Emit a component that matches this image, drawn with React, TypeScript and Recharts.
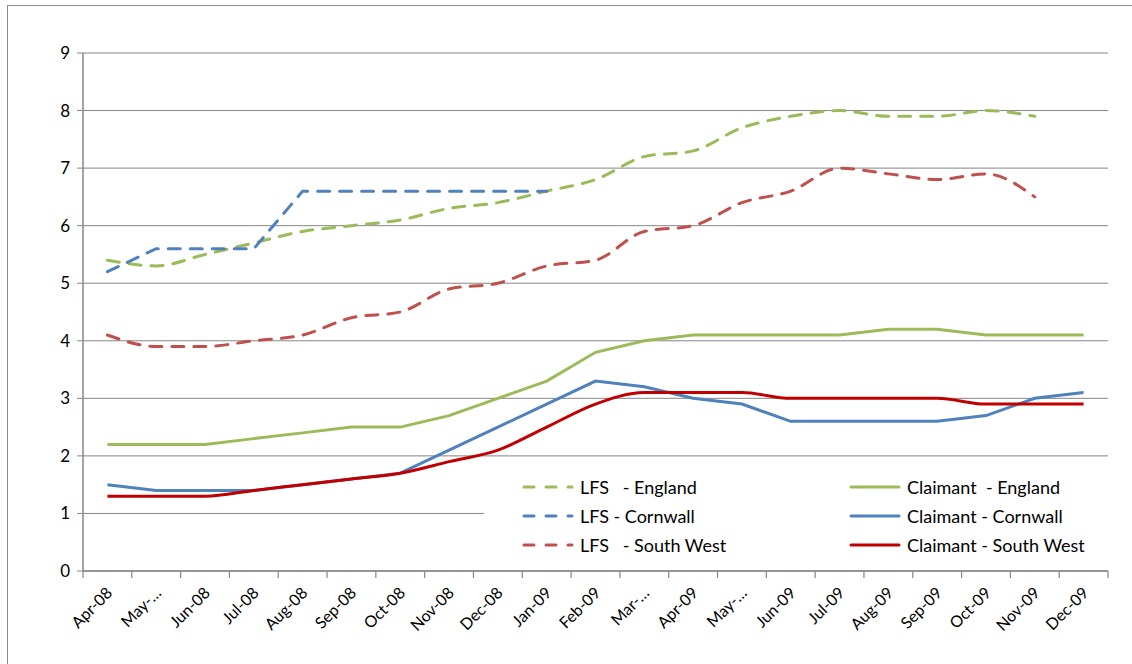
import React from 'react';
import { LineChart, Line, XAxis, YAxis, CartesianGrid, Legend } from 'recharts';

const months = [
  'Apr-08', 'May-…', 'Jun-08', 'Jul-08', 'Aug-08', 'Sep-08', 'Oct-08', 'Nov-08', 'Dec-08', 'Jan-09',
  'Feb-09', 'Mar-…', 'Apr-09', 'May-…', 'Jun-09', 'Jul-09', 'Aug-09', 'Sep-09', 'Oct-09', 'Nov-09', 'Dec-09',
];

const lfsEngland = [5.4, 5.3, 5.5, 5.7, 5.9, 6.0, 6.1, 6.3, 6.4, 6.6, 6.8, 7.2, 7.3, 7.7, 7.9, 8.0, 7.9, 7.9, 8.0, 7.9, null];
const lfsCornwall = [5.2, 5.6, 5.6, 5.6, 6.6, 6.6, 6.6, 6.6, 6.6, 6.6, null, null, null, null, null, null, null, null, null, null, null];
const lfsSouthWest = [4.1, 3.9, 3.9, 4.0, 4.1, 4.4, 4.5, 4.9, 5.0, 5.3, 5.4, 5.9, 6.0, 6.4, 6.6, 7.0, 6.9, 6.8, 6.9, 6.5, null];
const claimantEngland = [2.2, 2.2, 2.2, 2.3, 2.4, 2.5, 2.5, 2.7, 3.0, 3.3, 3.8, 4.0, 4.1, 4.1, 4.1, 4.1, 4.2, 4.2, 4.1, 4.1, 4.1];
const claimantCornwall = [1.5, 1.4, 1.4, 1.4, 1.5, 1.6, 1.7, 2.1, 2.5, 2.9, 3.3, 3.2, 3.0, 2.9, 2.6, 2.6, 2.6, 2.6, 2.7, 3.0, 3.1];
const claimantSouthWest = [1.3, 1.3, 1.3, 1.4, 1.5, 1.6, 1.7, 1.9, 2.1, 2.5, 2.9, 3.1, 3.1, 3.1, 3.0, 3.0, 3.0, 3.0, 2.9, 2.9, 2.9];

const yTicks = [0, 1, 2, 3, 4, 5, 6, 7, 8, 9];

const data = months.map((m, i) => ({
  idx: i,
  month: m,
  lfsEngland: lfsEngland[i],
  lfsCornwall: lfsCornwall[i],
  lfsSouthWest: lfsSouthWest[i],
  claimantEngland: claimantEngland[i],
  claimantCornwall: claimantCornwall[i],
  claimantSouthWest: claimantSouthWest[i],
}));

const labelTicks = months.map((_, i) => i);
const boundaryTicks = [...months.map((_, i) => i - 0.5), months.length - 0.5];
const xDomain = [-0.5, months.length - 0.5];

const GREEN = '#9BBB59';
const BLUE = '#4F81BD';
const RED_LIGHT = '#C0504D';
const RED = '#C00000';
const AXIS = '#868686';
const FONT = 'Lato, "Open Sans", sans-serif';

const legendCols = [
  [
    { label: 'LFS   - England', color: GREEN, dash: true },
    { label: 'LFS - Cornwall', color: BLUE, dash: true },
    { label: 'LFS   - South West', color: RED_LIGHT, dash: true },
  ],
  [
    { label: 'Claimant  - England', color: GREEN, dash: false },
    { label: 'Claimant - Cornwall', color: BLUE, dash: false },
    { label: 'Claimant - South West', color: RED, dash: false },
  ],
];

function MonthTick(props: any) {
  const { x, y, payload } = props;
  return (
    <text
      x={x + 6}
      y={y + 13}
      textAnchor="end"
      transform={`rotate(-45, ${x + 6}, ${y + 13})`}
      fontSize={16}
      fontFamily={FONT}
      fill="#000"
    >
      {months[payload.value]}
    </text>
  );
}

function ChartLegend() {
  return (
    <div
      style={{
        position: 'absolute',
        left: 484,
        top: 468,
        width: 624,
        height: 94,
        background: '#fff',
        fontFamily: FONT,
        fontSize: 18,
        color: '#000',
      }}
    >
      {legendCols.map((col, c) => (
        <div key={c} style={{ position: 'absolute', left: c === 0 ? 38 : 365, top: 4 }}>
          {col.map((item) => (
            <div key={item.label} style={{ display: 'flex', alignItems: 'center', height: 29, whiteSpace: 'pre' }}>
              <svg width={52} height={6} style={{ marginRight: 6 }}>
                <line
                  x1={2}
                  y1={3}
                  x2={50}
                  y2={3}
                  stroke={item.color}
                  strokeWidth={3}
                  strokeLinecap="round"
                  strokeDasharray={item.dash ? '10 12' : undefined}
                />
              </svg>
              <span>{item.label}</span>
            </div>
          ))}
        </div>
      ))}
    </div>
  );
}

export default function App() {
  return (
    <div style={{ position: 'absolute', left: 0, top: 0, width: 1132, height: 664, background: '#fff', overflow: 'hidden' }}>
      <div
        style={{
          position: 'absolute',
          left: 7,
          top: 5,
          width: 1140,
          height: 680,
          border: '1px solid #8c8c8c',
        }}
      />
      <div style={{ position: 'absolute', left: 0, top: 0 }}>
        <LineChart width={1132} height={664} data={data} margin={{ top: 53, right: 24, left: 43, bottom: 13 }}>
          <CartesianGrid vertical={false} stroke={AXIS} strokeWidth={1} />
          <XAxis
            xAxisId="a"
            type="number"
            dataKey="idx"
            domain={xDomain}
            ticks={boundaryTicks}
            interval={0}
            height={2}
            tick={() => <g />}
            tickSize={7}
            tickLine={{ stroke: AXIS, strokeWidth: 1.2 }}
            axisLine={{ stroke: AXIS, strokeWidth: 1.5 }}
          />
          <XAxis
            xAxisId="b"
            type="number"
            dataKey="idx"
            domain={xDomain}
            ticks={labelTicks}
            interval={0}
            height={78}
            axisLine={false}
            tickLine={false}
            tick={<MonthTick />}
          />
          <YAxis
            domain={[0, 9]}
            ticks={yTicks}
            interval={0}
            width={40}
            tickSize={6}
            tickMargin={7}
            axisLine={{ stroke: AXIS, strokeWidth: 1.5 }}
            tickLine={{ stroke: AXIS }}
            tick={{ fill: '#000', fontSize: 17, fontFamily: FONT }}
          />
          <Line xAxisId="b" type="monotone" dataKey="lfsEngland" stroke={GREEN} strokeWidth={3} strokeDasharray="12 10" strokeLinecap="round" dot={false} isAnimationActive={false} connectNulls={false} />
          <Line xAxisId="b" type="linear" dataKey="lfsCornwall" stroke={BLUE} strokeWidth={3} strokeDasharray="12 10" strokeLinecap="round" dot={false} isAnimationActive={false} connectNulls={false} />
          <Line xAxisId="b" type="monotone" dataKey="lfsSouthWest" stroke={RED_LIGHT} strokeWidth={3} strokeDasharray="12 10" strokeLinecap="round" dot={false} isAnimationActive={false} connectNulls={false} />
          <Line xAxisId="b" type="linear" dataKey="claimantEngland" stroke={GREEN} strokeWidth={3} dot={false} isAnimationActive={false} />
          <Line xAxisId="b" type="linear" dataKey="claimantCornwall" stroke={BLUE} strokeWidth={3} dot={false} isAnimationActive={false} />
          <Line xAxisId="b" type="monotone" dataKey="claimantSouthWest" stroke={RED} strokeWidth={3} dot={false} isAnimationActive={false} />
          <Legend content={() => null} />
        </LineChart>
      </div>
      <ChartLegend />
    </div>
  );
}
